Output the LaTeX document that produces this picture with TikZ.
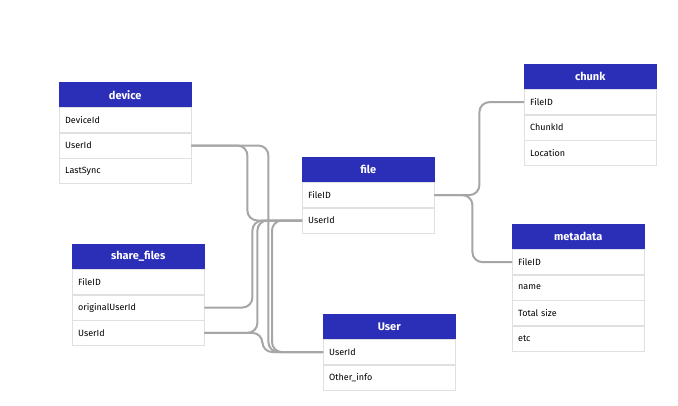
\documentclass[tikz,border=0pt]{standalone}
\usepackage{fontspec}
\setmainfont{Fira Sans}
\usetikzlibrary{positioning}
\definecolor{headblue}{HTML}{2B2FB8}
\tikzset{
  head/.style={draw=headblue, fill=headblue, text=white, font=\bfseries\fontsize{11}{13}\selectfont,
    minimum width=132pt, minimum height=25pt, inner sep=0pt, anchor=north west},
  field/.style={draw=black!12, fill=white, font=\fontsize{9}{11}\selectfont, text width=120pt,
    minimum width=132pt, minimum height=25pt, inner sep=0pt, align=left, below=0pt of #1},
  link/.style={draw=black!35, line width=2pt, rounded corners=10pt}
}
% table: name, x, y, title, rows
\newcommand{\dbtable}[5]{
  \node [head] (#1) at (#2,#3) {#4};
  \foreach \f [count=\i, evaluate=\i as \j using int(\i-1)] in {#5} {
    \ifnum\i=1 \node [field=#1] (#1-\i) {\f};
    \else \node [field=#1-\j] (#1-\i) {\f}; \fi
  }
}
\begin{document}
\begin{tikzpicture}[x=1pt, y=-1pt]
\useasboundingbox (0,0) rectangle (678,405);

\dbtable{device}{59}{82}{device}{DeviceId,UserId,LastSync}
\dbtable{chunk}{524}{64}{chunk}{FileID,ChunkId,Location}
\dbtable{file}{302}{157}{file}{FileID,UserId}
\dbtable{metadata}{512}{224}{metadata}{FileID,name,Total size,etc}
\dbtable{share}{72}{244}{share\_files}{FileID,originalUserId,UserId}
\dbtable{user}{323}{314}{User}{UserId,Other\_info}

% links
\draw [link] (device-2.east) -- ++(56,0) |- (file-2.west);
\draw [link] (device-2.east) -- ++(77,0) |- (user-1.west);
\draw [link] (share-2.east) -- ++(48,0) |- (file-2.west);
\draw [link] (share-3.east) -- ++(53,0) |- (file-2.west);
\draw [link] (share-3.east) -- ++(58,0) |- (user-1.west);
\draw [link] (file-2.west) -- ++(-30,0) |- (user-1.west);
\draw [link] (file-1.east) -- ++(45,0) |- (chunk-1.west);
\draw [link] (file-1.east) -- ++(38,0) |- (metadata-1.west);

\end{tikzpicture}
\end{document}
